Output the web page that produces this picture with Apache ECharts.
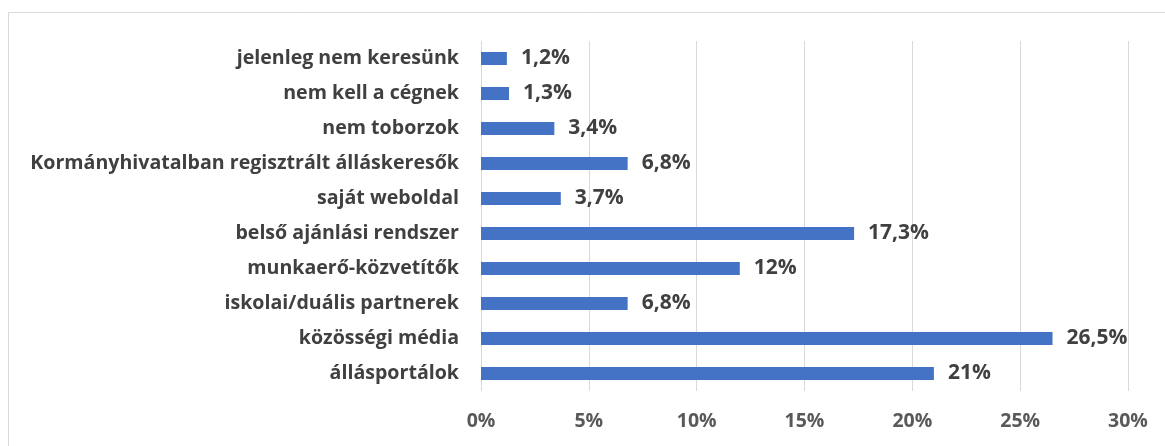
<!DOCTYPE html>
<html lang="hu">
  <head>
    <meta charset="UTF-8" />
    <title>Toborzási csatornák</title>
    <style>
      html, body { margin: 0; padding: 0; width: 100%; height: 100%; overflow: hidden; background: #fff; }
      #chart { width: 1165px; height: 446px; }
    </style>
    <script src="https://cdn.jsdelivr.net/npm/echarts@6/dist/echarts.min.js"></script>
  </head>
  <body>
    <div id="chart"></div>
    <script>
      // kategóriák alulról felfelé
      const categories = [
        "állásportálok",
        "közösségi média",
        "iskolai/duális partnerek",
        "munkaerő-közvetítők",
        "belső ajánlási rendszer",
        "saját weboldal",
        "Kormányhivatalban regisztrált álláskeresők",
        "nem toborzok",
        "nem kell a cégnek",
        "jelenleg nem keresünk"
      ];
      const values = [21, 26.5, 6.8, 12, 17.3, 3.7, 6.8, 3.4, 1.3, 1.2];
      const xTicks = { min: 0, max: 30, interval: 5 };

      const font = "'Open Sans', sans-serif";
      const chart = echarts.init(document.getElementById("chart"), null, { renderer: "canvas" });

      const option = {
        animation: false,
        graphic: [{
          type: "rect",
          shape: { x: 8.5, y: 12.5, width: 1200, height: 500 },
          style: { fill: "none", stroke: "#d9d9d9", lineWidth: 1 },
          silent: true
        }],
        grid: { left: 481, right: 37, top: 41, height: 350 },
        xAxis: {
          type: "value",
          min: xTicks.min,
          max: xTicks.max,
          interval: xTicks.interval,
          axisLine: { show: false },
          axisTick: { show: false },
          splitLine: { lineStyle: { color: "#d9d9d9", width: 1 } },
          axisLabel: {
            margin: 20,
            color: "#595959",
            fontSize: 19.5,
            fontWeight: "bold",
            fontFamily: font,
            formatter: v => v + "%"
          }
        },
        yAxis: {
          type: "category",
          data: categories,
          axisLine: { show: false },
          axisTick: { show: false },
          axisLabel: {
            margin: 22,
            color: "#404040",
            fontSize: 19.6,
            fontWeight: "bold",
            fontFamily: font
          }
        },
        series: [{
          type: "bar",
          data: values,
          barWidth: 13,
          itemStyle: { color: "#4472c4" },
          label: {
            show: true,
            position: "right",
            distance: 14,
            color: "#404040",
            fontSize: 21,
            fontWeight: "bold",
            fontFamily: font,
            formatter: p => String(p.value).replace(".", ",") + "%"
          }
        }]
      };

      chart.setOption(option);
    </script>
  </body>
</html>
